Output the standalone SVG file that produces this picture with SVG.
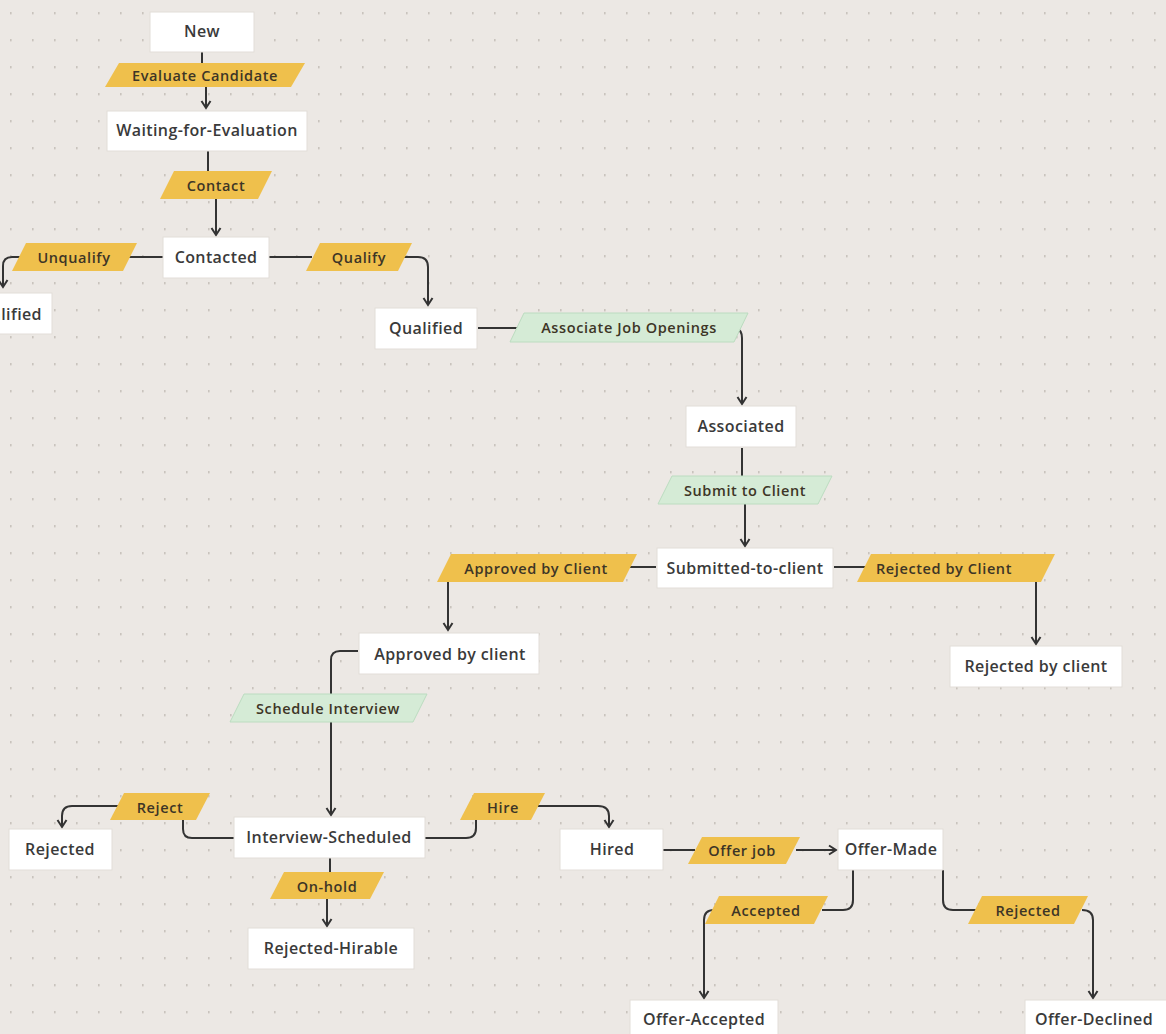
<svg xmlns="http://www.w3.org/2000/svg" width="1166" height="1034" viewBox="0 0 1166 1034">
<defs>
<pattern id="dots" x="0" y="0" width="22" height="27" patternUnits="userSpaceOnUse">
<rect x="10" y="12" width="1.6" height="2.4" fill="#c9c3bd"/>
</pattern>
<marker id="arr" viewBox="0 0 12 12" refX="10" refY="6" markerWidth="12" markerHeight="12" markerUnits="userSpaceOnUse" orient="auto">
<path d="M3,1.5 L10,6 L3,10.5" fill="none" stroke="#333" stroke-width="2" stroke-linejoin="miter"/>
</marker>
</defs>
<style>
.node rect{fill:#ffffff;stroke:#e2ddd8;stroke-width:1}
.node text{font-family:"Open Sans","Liberation Sans",Arial,sans-serif;font-size:16px;font-weight:600;letter-spacing:0.4px;fill:#3a3a3a;text-anchor:middle;dominant-baseline:central}
.lbl text{font-family:"Open Sans","Liberation Sans",Arial,sans-serif;font-size:14.5px;font-weight:600;letter-spacing:0.6px;fill:#3d3526;text-anchor:middle;dominant-baseline:central}
.y polygon{fill:#efc04c}
.g polygon{fill:#d5ebd6;stroke:#bcdcc0;stroke-width:1}
.c path{fill:none;stroke:#333;stroke-width:2}
</style>
<rect width="1166" height="1034" fill="#ece8e4"/>
<rect width="1166" height="1034" fill="url(#dots)"/>

<g id="connectors" class="c">
<path d="M202,52 V63"/>
<path d="M206,87 V108" marker-end="url(#arr)"/>
<path d="M208,151 V171"/>
<path d="M216,199 V235" marker-end="url(#arr)"/>
<path d="M269,257 H312"/>
<path d="M404,257 H418 Q428,257 428,267 V305" marker-end="url(#arr)"/>
<path d="M163,257 H128"/>
<path d="M22,257 H12 Q3,257 3,266 V287" marker-end="url(#arr)"/>
<path d="M478,328 H518"/>
<path d="M736,328 Q742,330 742,338 V404" marker-end="url(#arr)"/>
<path d="M742,448 V476"/>
<path d="M745,504 V546" marker-end="url(#arr)"/>
<path d="M656,567 H626"/>
<path d="M448,582 V630" marker-end="url(#arr)"/>
<path d="M834,567 H866"/>
<path d="M1036,582 V644" marker-end="url(#arr)"/>
<path d="M358,651 H340 Q331,651 331,660 V815" marker-end="url(#arr)"/>
<path d="M234,838 H192 Q183,838 183,829 V820"/>
<path d="M120,806 H72 Q62,806 62,816 V827" marker-end="url(#arr)"/>
<path d="M425,838 H466 Q476,838 476,828 V820"/>
<path d="M538,806 H598 Q609,806 609,816 V827" marker-end="url(#arr)"/>
<path d="M330,858 V872"/>
<path d="M327,899 V926" marker-end="url(#arr)"/>
<path d="M663,850 H695"/>
<path d="M796,850 H836" marker-end="url(#arr)"/>
<path d="M853,870 V900 Q853,910 843,910 H822"/>
<path d="M714,910 Q704,910 704,920 V998" marker-end="url(#arr)"/>
<path d="M943,870 V900 Q943,910 953,910 H976"/>
<path d="M1082,910 Q1093,910 1093,920 V998" marker-end="url(#arr)"/>
</g>

<g id="lbl-evaluate" class="lbl y"><polygon points="119,63 305,63 291,87 105,87"/><text x="205" y="75">Evaluate Candidate</text></g>
<g id="lbl-contact" class="lbl y"><polygon points="174,171 272,171 258,199 160,199"/><text x="216" y="185">Contact</text></g>
<g id="lbl-unqualify" class="lbl y"><polygon points="26,243 137,243 123,271 12,271"/><text x="74" y="257">Unqualify</text></g>
<g id="lbl-qualify" class="lbl y"><polygon points="320,243 412,243 398,271 306,271"/><text x="359" y="257">Qualify</text></g>
<g id="lbl-associate" class="lbl g"><polygon points="524,313 748,313 734,342 510,342"/><text x="629" y="327">Associate Job Openings</text></g>
<g id="lbl-submit" class="lbl g"><polygon points="672,476 832,476 818,504 658,504"/><text x="745" y="490">Submit to Client</text></g>
<g id="lbl-approved" class="lbl y"><polygon points="451,554 637,554 623,582 437,582"/><text x="536" y="568">Approved by Client</text></g>
<g id="lbl-rejectedbyclient" class="lbl y"><polygon points="871,554 1055,554 1041,582 857,582"/><text x="944" y="568">Rejected by Client</text></g>
<g id="lbl-schedule" class="lbl g"><polygon points="244,694 427,694 413,722 230,722"/><text x="328" y="708">Schedule Interview</text></g>
<g id="lbl-reject" class="lbl y"><polygon points="124,793 210,793 196,820 110,820"/><text x="160" y="807">Reject</text></g>
<g id="lbl-hire" class="lbl y"><polygon points="474,793 545,793 531,820 460,820"/><text x="503" y="807">Hire</text></g>
<g id="lbl-onhold" class="lbl y"><polygon points="284,872 384,872 370,899 270,899"/><text x="327" y="886">On-hold</text></g>
<g id="lbl-offerjob" class="lbl y"><polygon points="702,837 800,837 786,864 688,864"/><text x="742" y="850">Offer job</text></g>
<g id="lbl-accepted" class="lbl y"><polygon points="719,896 828,896 814,924 705,924"/><text x="766" y="910">Accepted</text></g>
<g id="lbl-rejected2" class="lbl y"><polygon points="982,896 1088,896 1074,924 968,924"/><text x="1028" y="910">Rejected</text></g>

<g id="n-new" class="node"><rect x="150" y="12" width="104" height="40"/><text x="202" y="31">New</text></g>
<g id="n-waiting" class="node"><rect x="107" y="111" width="200" height="40"/><text x="207" y="130">Waiting-for-Evaluation</text></g>
<g id="n-contacted" class="node"><rect x="163" y="237" width="106" height="41"/><text x="216" y="257">Contacted</text></g>
<g id="n-unqualified" class="node"><rect x="-60" y="293" width="112" height="41"/><text x="42" y="314" style="text-anchor:end">Unqualified</text></g>
<g id="n-qualified" class="node"><rect x="375" y="308" width="102" height="41"/><text x="426" y="328">Qualified</text></g>
<g id="n-associated" class="node"><rect x="686" y="406" width="110" height="41"/><text x="741" y="426">Associated</text></g>
<g id="n-submitted" class="node"><rect x="657" y="548" width="176" height="40"/><text x="745" y="568">Submitted-to-client</text></g>
<g id="n-approved" class="node"><rect x="359" y="633" width="180" height="41"/><text x="450" y="654">Approved by client</text></g>
<g id="n-rejectedbyclient" class="node"><rect x="950" y="646" width="172" height="41"/><text x="1036" y="666">Rejected by client</text></g>
<g id="n-interview" class="node"><rect x="234" y="817" width="191" height="41"/><text x="329" y="837">Interview-Scheduled</text></g>
<g id="n-rejected" class="node"><rect x="9" y="829" width="103" height="41"/><text x="60" y="849">Rejected</text></g>
<g id="n-hirable" class="node"><rect x="248" y="928" width="166" height="41"/><text x="331" y="948">Rejected-Hirable</text></g>
<g id="n-hired" class="node"><rect x="560" y="829" width="103" height="41"/><text x="612" y="849">Hired</text></g>
<g id="n-offermade" class="node"><rect x="838" y="829" width="105" height="41"/><text x="891" y="849">Offer-Made</text></g>
<g id="n-offeraccepted" class="node"><rect x="630" y="1000" width="148" height="40"/><text x="704" y="1019">Offer-Accepted</text></g>
<g id="n-offerdeclined" class="node"><rect x="1025" y="1000" width="145" height="40"/><text x="1094" y="1019">Offer-Declined</text></g>
</svg>
